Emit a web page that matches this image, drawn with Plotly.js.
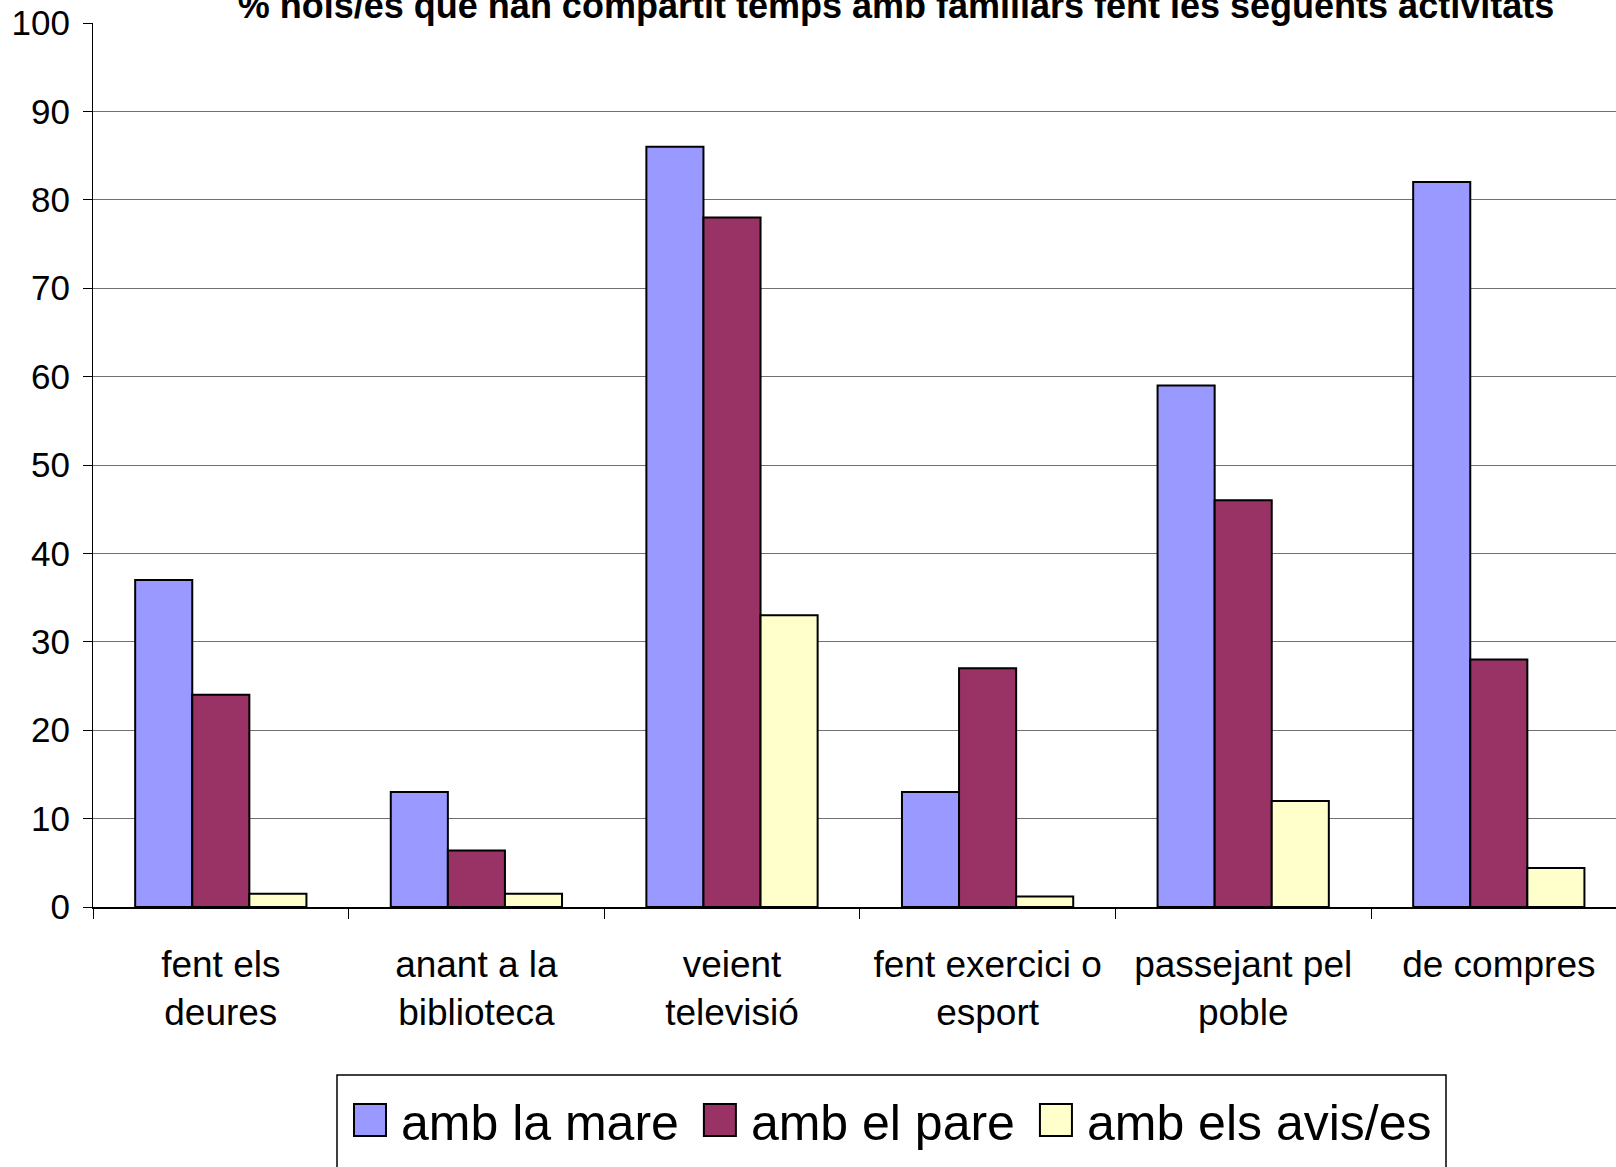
<!DOCTYPE html>
<html>
<head>
<meta charset="utf-8">
<script src="https://cdn.plot.ly/plotly-3.0.1.min.js"></script>
<style>html,body{margin:0;padding:0;background:#fff;}#chart{width:1616px;height:1167px;}</style>
</head>
<body>
<div id="chart"></div>
<script>
const categories = ["fent els<br>deures", "anant a la<br>biblioteca", "veient<br>televisió", "fent exercici o<br>esport", "passejant pel<br>poble", "de compres"];
const seriesNames = ["amb la mare", "amb el pare", "amb els avis/es"];
const mare = [37, 13, 86, 13, 59, 82];
const pare = [24, 6.4, 78, 27, 46, 28];
const avis = [1.5, 1.5, 33, 1.2, 12, 4.4];
const colors = ["#9999FF", "#993366", "#FFFFCC"];
const yTicks = [0, 10, 20, 30, 40, 50, 60, 70, 80, 90, 100];
const titleText = "% nois/es que han compartit temps amb familiars fent les següents activitats";

const W = 1616, H = 1167;
const L = 93, T = 23, B = 260;
const catW = 255.6;
const plotW = W - L;
const plotH = H - T - B;
const font = "Liberation Sans, Arial, sans-serif";

const values = [mare, pare, avis];
const traces = values.map((v, i) => ({
  type: "bar",
  name: seriesNames[i],
  x: categories,
  y: v,
  marker: {color: colors[i], line: {color: "#000", width: 2}},
  hoverinfo: "none"
}));

const px2x = p => (p - L) / plotW;
const py2y = p => (H - B - p) / plotH;

const layout = {
  width: W, height: H,
  margin: {l: L, r: 0, t: T, b: B},
  paper_bgcolor: "#fff", plot_bgcolor: "#fff",
  barmode: "group", bargap: 0.33, bargroupgap: 0,
  font: {family: font, color: "#000"},
  title: {
    text: "<b>" + titleText + "</b>",
    font: {family: font, size: 36, color: "#000"},
    xref: "container", yref: "container",
    x: 896 / W, xanchor: "center",
    y: 1 - 18 / H, yanchor: "bottom"
  },
  xaxis: {
    type: "category",
    range: [-0.5, -0.5 + plotW / catW],
    showgrid: false,
    showline: true, linecolor: "#000", linewidth: 1.5,
    ticks: "outside", tickson: "boundaries", ticklen: 10, tickcolor: "#000", tickwidth: 1,
    tickfont: {family: font, size: 37, color: "#000"},
    ticklabelstandoff: 24,
    tickangle: 0,
    fixedrange: true
  },
  yaxis: {
    range: [0, 100],
    tickvals: yTicks,
    ticktext: yTicks.map(String),
    showgrid: true, gridcolor: "#707070", gridwidth: 1,
    zeroline: false,
    showline: true, linecolor: "#000", linewidth: 1,
    ticks: "outside", ticklen: 9, tickcolor: "#000",
    tickfont: {family: font, size: 35, color: "#000"},
    ticklabelstandoff: 6,
    fixedrange: true
  },
  showlegend: true,
  legend: {
    orientation: "h",
    xref: "container", yref: "container",
    x: 339 / W, xanchor: "left",
    y: 1 - 1081 / H, yanchor: "top",
    font: {family: font, size: 50, color: "#000"},
    itemwidth: 52,
    bgcolor: "rgba(0,0,0,0)", borderwidth: 0,
    traceorder: "normal"
  },
  shapes: [{
    type: "rect", xref: "paper", yref: "paper",
    x0: px2x(337), x1: px2x(1446), y0: py2y(1075), y1: py2y(1200),
    line: {color: "#000", width: 1.5}, fillcolor: "rgba(0,0,0,0)", layer: "above"
  }]
};

Plotly.newPlot("chart", traces, layout, {staticPlot: true}).then(gd => {
  gd.querySelectorAll(".legendpoints path").forEach(p => {
    p.setAttribute("d", "M16,16H-16V-16H16Z");
    p.style.strokeWidth = "2px";
  });
  gd.querySelectorAll(".legend .scrollbox").forEach(s => s.removeAttribute("clip-path"));
  gd.querySelectorAll(".legend .traces").forEach((g, i) => {
    const t = g.getAttribute("transform") || "";
    const m = t.match(/translate\(\s*([-\d.e]+)[ ,]+([-\d.e]+)\s*\)/);
    if (m) g.setAttribute("transform", "translate(" + (parseFloat(m[1]) + i * 5) + "," + m[2] + ")");
  });
});
</script>
</body>
</html>
